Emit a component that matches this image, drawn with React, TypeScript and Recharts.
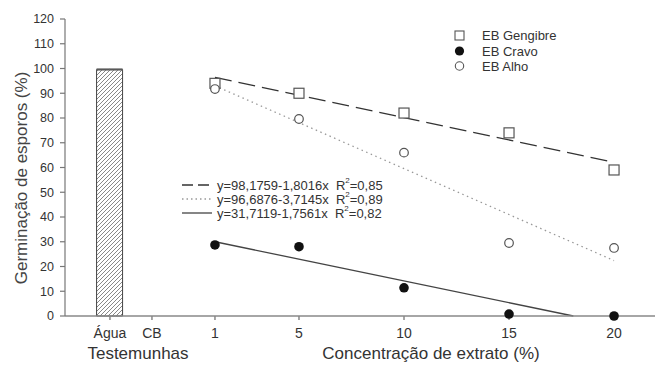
import {
  Bar,
  ComposedChart,
  ErrorBar,
  Line,
  Scatter,
  XAxis,
  YAxis,
} from 'recharts'

const TICK_X = [-4, -2, 1, 5, 10, 15, 20]
const TICK_LABELS = ['Água', 'CB', '1', '5', '10', '15', '20']
const Y_TICKS = [0, 10, 20, 30, 40, 50, 60, 70, 80, 90, 100, 110, 120]

// controls (Testemunhas)
const CONTROL_X = [-4]
const CONTROL_VALUES = [99.6]
const CONTROL_ERR = [0.25]

// observed germination per extract concentration
const CONC = [1, 5, 10, 15, 20]
const GENGIBRE = [94, 90, 82, 74, 59]
const CRAVO = [28.7, 28, 11.4, 0.8, 0]
const ALHO = [91.7, 79.6, 66, 29.5, 27.5]

// fitted lines (end points)
const FIT_GENGIBRE_X = [1, 20]
const FIT_GENGIBRE = [96.4, 62.1]
const FIT_ALHO_X = [1, 20]
const FIT_ALHO = [93.0, 22.4]
const FIT_CRAVO_X = [1, 18.06]
const FIT_CRAVO = [30.0, 0]

const EQUATIONS = [
  { text: 'y=98,1759-1,8016x', r2: '0,85', dash: '11 5', color: '#333' },
  { text: 'y=96,6876-3,7145x', r2: '0,89', dash: '1.5 3', color: '#999' },
  { text: 'y=31,7119-1,7561x', r2: '0,82', dash: undefined, color: '#444' },
]

const toPoints = (xs: number[], ys: number[]) => xs.map((x, i) => ({ x, y: ys[i] }))

const barData = CONTROL_X.map((x, i) => ({ x, y: CONTROL_VALUES[i], err: CONTROL_ERR[i] }))
const gengibreData = toPoints(CONC, GENGIBRE)
const cravoData = toPoints(CONC, CRAVO)
const alhoData = toPoints(CONC, ALHO)

const FONT = '"Liberation Sans", Arial, sans-serif'

const SquareDot = (props: any) => (
  <rect x={props.cx - 5} y={props.cy - 5} width={10} height={10} fill="#fff" stroke="#555" strokeWidth={1.2} />
)
const FilledDot = (props: any) => <circle cx={props.cx} cy={props.cy} r={4.8} fill="#111" />
const OpenDot = (props: any) => (
  <circle cx={props.cx} cy={props.cy} r={4.3} fill="#fff" stroke="#555" strokeWidth={1.2} />
)

export default function App() {
  return (
    <div style={{ position: 'absolute', left: 0, top: 0, width: 655, height: 365, background: '#fff', fontFamily: FONT }}>
      <ComposedChart width={655} height={365} data={barData} margin={{ top: 19, right: 0, bottom: 19, left: 0 }}>
        <defs>
          <pattern id="hatch" patternUnits="userSpaceOnUse" width={4} height={4}>
            <path d="M-1,1 l2,-2 M0,4 l4,-4 M3,5 l2,-2" stroke="#555" strokeWidth={0.7} />
          </pattern>
        </defs>
        <XAxis
          type="number"
          dataKey="x"
          domain={[-6.14, 21.95]}
          ticks={TICK_X}
          allowDataOverflow
          tickFormatter={(v: number) => TICK_LABELS[TICK_X.indexOf(v)] ?? ''}
          tick={{ fontSize: 14, fill: '#333', fontFamily: FONT }}
          tickSize={4}
          tickMargin={8}
          stroke="#888"
          strokeWidth={1.5}
        />
        <YAxis
          type="number"
          domain={[0, 120]}
          ticks={Y_TICKS}
          width={65}
          tick={{ fontSize: 12.5, fill: '#333', fontFamily: FONT }}
          tickSize={5}
          tickMargin={6}
          stroke="#777"
          strokeWidth={1.2}
        />
        <Bar dataKey="y" barSize={26} fill="url(#hatch)" stroke="#444" strokeWidth={1} isAnimationActive={false}>
          <ErrorBar dataKey="err" width={13} stroke="#666" strokeWidth={1} direction="y" />
        </Bar>
        <Line data={toPoints(FIT_GENGIBRE_X, FIT_GENGIBRE)} dataKey="y" stroke="#333" strokeWidth={1.3} strokeDasharray="17 7" dot={false} isAnimationActive={false} />
        <Line data={toPoints(FIT_ALHO_X, FIT_ALHO)} dataKey="y" stroke="#999" strokeWidth={1.3} strokeDasharray="1.5 3.5" dot={false} isAnimationActive={false} />
        <Line data={toPoints(FIT_CRAVO_X, FIT_CRAVO)} dataKey="y" stroke="#444" strokeWidth={1.3} dot={false} isAnimationActive={false} />
        <Scatter data={gengibreData} dataKey="y" shape={SquareDot} isAnimationActive={false} />
        <Scatter data={alhoData} dataKey="y" shape={OpenDot} isAnimationActive={false} />
        <Scatter data={cravoData} dataKey="y" shape={FilledDot} isAnimationActive={false} />
      </ComposedChart>
      <svg width={655} height={365} style={{ position: 'absolute', left: 0, top: 0, pointerEvents: 'none' }} fontFamily={FONT}>
        <text transform="translate(21,178) rotate(-90)" textAnchor="middle" dominantBaseline="central" fontSize={17} fill="#444">
          Germinação de esporos (%)
        </text>
        <text x={138} y={353} textAnchor="middle" dominantBaseline="central" fontSize={17} fill="#333">
          Testemunhas
        </text>
        <text x={431} y={353} textAnchor="middle" dominantBaseline="central" fontSize={17} fill="#333">
          Concentração de extrato (%)
        </text>
        <rect x={455} y={31} width={9} height={9} fill="#fff" stroke="#555" strokeWidth={1.1} />
        <circle cx={459.5} cy={51} r={4.6} fill="#111" />
        <circle cx={459.5} cy={66} r={4.2} fill="#fff" stroke="#555" strokeWidth={1.1} />
        {['EB Gengibre', 'EB Cravo', 'EB Alho'].map((t, i) => (
          <text key={t} x={482} y={35.5 + i * 15.5} dominantBaseline="central" fontSize={13} fill="#333">
            {t}
          </text>
        ))}
        {EQUATIONS.map((e, i) => (
          <g key={e.text}>
            <line x1={182} x2={212} y1={185 + i * 14} y2={185 + i * 14} stroke={e.color} strokeWidth={1.3} strokeDasharray={e.dash} />
            <text x={217} y={185 + i * 14} dominantBaseline="central" fontSize={13} fill="#333">
              {e.text}
              {'\u00a0\u00a0R'}
              <tspan fontSize={8} dy={-5}>2</tspan>
              <tspan dy={5}>={e.r2}</tspan>
            </text>
          </g>
        ))}
      </svg>
    </div>
  )
}
